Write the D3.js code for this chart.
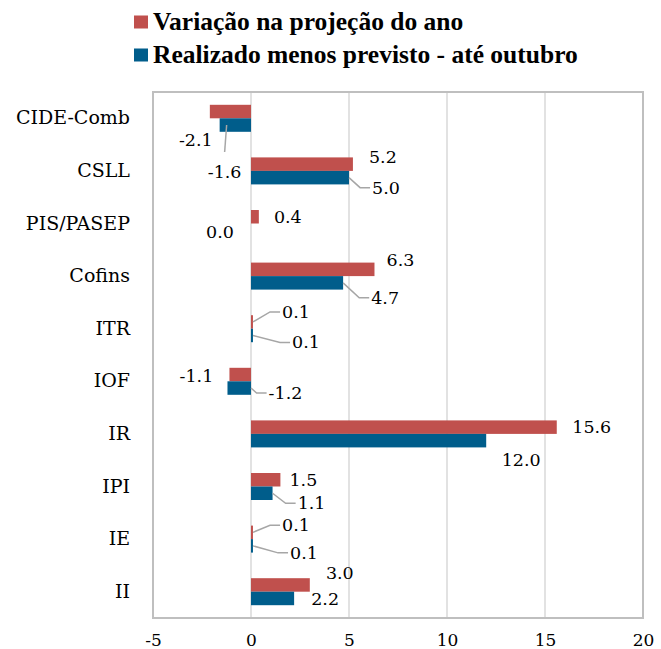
<!DOCTYPE html>
<html>
<head>
<meta charset="utf-8">
<script src="https://cdn.jsdelivr.net/npm/d3@7"></script>
<style>
  body { margin: 0; background: #fff; }
  svg { display: block; }
</style>
</head>
<body>
<svg></svg>
<script>
let width = 661, height = 649;

// data
const categories = ["CIDE-Comb", "CSLL", "PIS/PASEP", "Cofins", "ITR", "IOF", "IR", "IPI", "IE", "II"];
const variacao = [-2.1, 5.2, 0.4, 6.3, 0.1, -1.1, 15.6, 1.5, 0.1, 3.0];
const realizado = [-1.6, 5.0, 0.0, 4.7, 0.1, -1.2, 12.0, 1.1, 0.1, 2.2];
const seriesNames = ["Variação na projeção do ano", "Realizado menos previsto - até outubro"];
const xTicks = [-5, 0, 5, 10, 15, 20];

// label placement (px offset from bar end / bar centre) and leader lines
const variacaoLabelOffset = [[-14, 28], [30, -7], [29, 0], [26, -9], [43, -10], [-33, 1], [35, 0], [23, 0], [43, -7], [30, -12]];
const realizadoLabelOffset = [[5, 47], [37, 10], [-31, 2], [42, 15], [53, 7], [58, 5], [35, 19], [39, 10], [51, 7], [31, 1]];
const variacaoLeader = ["", "", "", "", "side", "", "", "", "side", ""];
const realizadoLeader = ["top", "side", "", "side", "side", "side", "", "side", "side", ""];

const colors = ["#C0504D", "#005D8B"];
const font = "'DejaVu Serif', serif";

let svg = d3.select("svg")
    .attr("width", width)
    .attr("height", height)
    .attr("viewBox", "0 0 " + width + " " + height);

let plotLeft = 153, plotRight = 643, plotTop = 92, plotBottom = 618;

let x = d3.scaleLinear().domain([-5, 20]).range([plotLeft, plotRight]);
let y = d3.scaleBand().domain(categories).range([plotTop, plotBottom]);
let ySub = d3.scaleBand().domain([0, 1]).range([0, y.bandwidth()]).paddingOuter(0.948);

// gridlines
svg.append("g")
    .selectAll("line")
    .data(xTicks.filter(t => t > -5 && t < 20))
    .enter()
    .append("line")
    .attr("x1", d => x(d)).attr("x2", d => x(d))
    .attr("y1", plotTop).attr("y2", plotBottom)
    .attr("stroke", "#D9D9D9")
    .attr("stroke-width", 1.5);

// plot box
svg.append("rect")
    .attr("x", plotLeft).attr("y", plotTop)
    .attr("width", plotRight - plotLeft).attr("height", plotBottom - plotTop)
    .attr("fill", "none")
    .attr("stroke", "#BFBFBF")
    .attr("stroke-width", 2);

// x axis labels
let xAxis = svg.append("g")
    .attr("transform", "translate(0," + plotBottom + ")")
    .call(d3.axisBottom(x).tickValues(xTicks).tickSize(0).tickPadding(16).tickFormat(d => String(d)));
xAxis.select(".domain").remove();
xAxis.selectAll("text")
    .attr("font-family", font)
    .attr("font-size", 17)
    .attr("fill", "#000");

// category labels
let yAxis = svg.append("g")
    .attr("transform", "translate(" + plotLeft + ",0)")
    .call(d3.axisLeft(y).tickSize(0).tickPadding(23));
yAxis.select(".domain").remove();
yAxis.selectAll("text")
    .attr("font-family", font)
    .attr("font-size", 19)
    .attr("fill", "#000");

let series = [
  { values: variacao, offs: variacaoLabelOffset, leader: variacaoLeader },
  { values: realizado, offs: realizadoLabelOffset, leader: realizadoLeader }
];

series.forEach((s, si) => {
  let rows = categories.map((c, i) => ({ cat: c, v: s.values[i], off: s.offs[i], leader: s.leader[i] }));

  // bars
  svg.append("g")
    .selectAll("rect")
    .data(rows)
    .enter()
    .append("rect")
    .attr("x", d => x(Math.min(0, d.v)))
    .attr("width", d => Math.abs(x(d.v) - x(0)))
    .attr("y", d => y(d.cat) + ySub(si))
    .attr("height", ySub.bandwidth())
    .attr("fill", colors[si]);

  let lbl = svg.append("g");

  rows.forEach(d => {
    let ex = x(d.v);
    let cy = y(d.cat) + ySub(si) + ySub.bandwidth() / 2;
    let lx = ex + d.off[0], ly = cy + d.off[1];
    let t = lbl.append("text")
      .attr("x", lx).attr("y", ly)
      .attr("text-anchor", "middle")
      .attr("dominant-baseline", "central")
      .attr("font-family", font)
      .attr("font-size", 17.5)
      .attr("fill", "#000")
      .text(d.v.toFixed(1));

    if (d.leader) {
      let bb = t.node().getBBox();
      let x0 = Math.min(x(0), ex), x1 = Math.max(x(0), ex);
      let path;
      if (d.leader == "top") {
        let sx = Math.max(x0, Math.min(x1, lx)) + 2;
        path = [[sx, cy], [lx, bb.y - 10]];
      } else {
        let sx = Math.max(x0, Math.min(x1, bb.x));
        let ey = ly;
        path = [[sx, cy], [bb.x - 12, ey], [bb.x - 2, ey]];
      }
      lbl.append("path")
        .attr("d", d3.line()(path))
        .attr("fill", "none")
        .attr("stroke", "#A6A6A6")
        .attr("stroke-width", 1.5);
    }
  });
});

// legend
let legend = svg.append("g");
seriesNames.forEach((n, i) => {
  let ly = 22 + i * 33;
  legend.append("rect")
    .attr("x", 134).attr("y", ly - 6.5)
    .attr("width", 14).attr("height", 13)
    .attr("fill", colors[i]);
  legend.append("text")
    .attr("x", 153).attr("y", ly + 8.4)
    .attr("font-family", "'Liberation Serif', serif")
    .attr("font-weight", "bold")
    .attr("font-size", 25.5)
    .attr("fill", "#000")
    .text(n);
});
</script>
</body>
</html>
